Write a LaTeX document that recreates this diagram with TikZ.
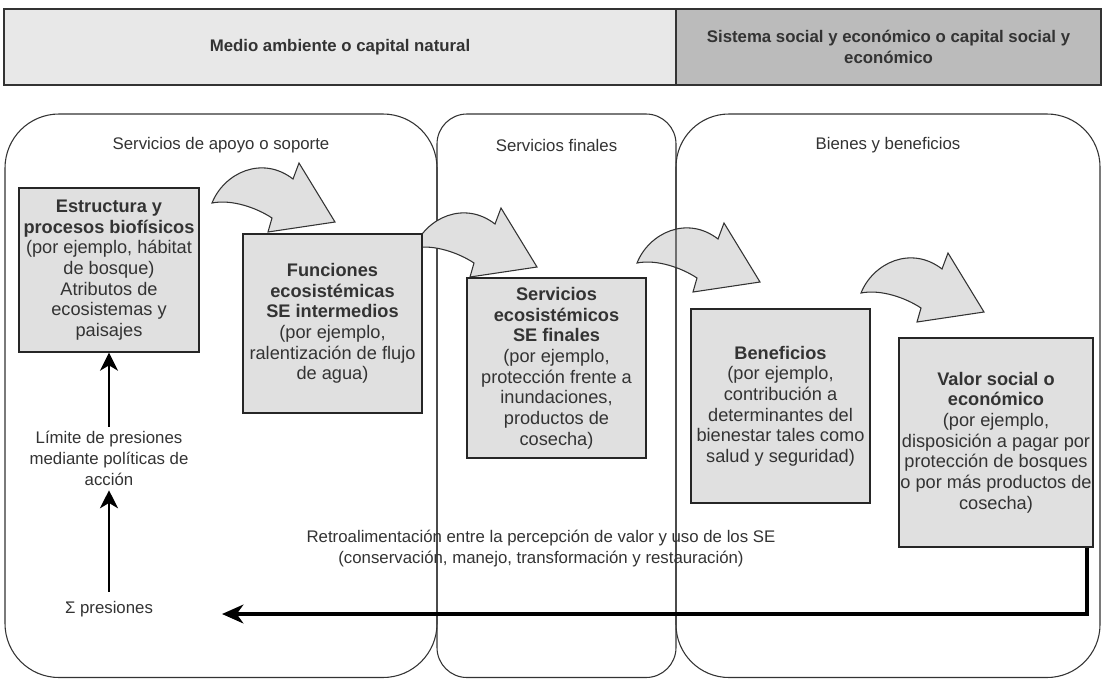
\documentclass[tikz,border=0pt]{standalone}
\usepackage{fontspec}
\setmainfont{Liberation Sans}
\usetikzlibrary{arrows.meta}
\definecolor{boxgray}{HTML}{E0E0E0}
\definecolor{barlight}{HTML}{E8E8E8}
\definecolor{bardark}{HTML}{BBBBBB}
\definecolor{txt}{HTML}{333333}
\definecolor{edge}{HTML}{333333}
\tikzset{
  panel/.style={draw=edge, line width=0.8pt},
  bar/.style={draw=edge, line width=0.9pt, text=txt, font=\fontsize{12.6}{15.75}\selectfont\bfseries, align=center, inner sep=0pt},
  box/.style={draw=black!85, line width=1pt, fill=boxgray, text=txt, align=center, font=\fontsize{13.65}{15.5}\selectfont, inner sep=0pt},
  lbl/.style={text=txt, align=center, font=\fontsize{12.6}{15.75}\selectfont, inner sep=0pt},
  barrow/.style={draw=edge, line width=0.8pt, fill=boxgray, line join=miter},
  varrow/.style={draw=black, line width=1.9pt, -{Stealth[length=13.5pt, width=13.5pt, inset=4pt]}},
  fbarrow/.style={draw=black, line width=3pt, -{Stealth[length=16pt, width=14pt, inset=5pt]}},
  bendarr/.pic={
    \draw[barrow] (0,0) .. controls (12,-30) and (50,-48) .. (81,-24)
      -- (87,-40) -- (123,19) -- (56,29) -- (60,15)
      .. controls (45,5) and (20,-4) .. (0,0) -- cycle;
  }
}
\begin{document}
\begin{tikzpicture}[x=0.75pt,y=-0.75pt]
\path[fill=white] (0,0) rectangle (1102,679);
\useasboundingbox (0,0) rectangle (1102,679);

% top bar
\node[bar, fill=barlight, minimum width=504pt, minimum height=57pt] (env) at (340,47) {Medio ambiente o capital natural};
\node[bar, fill=bardark, minimum width=318.75pt, minimum height=57pt] (soc) at (888.5,47) {Sistema social y económico o capital social y\\económico};

% panels and bent arrows
\draw[panel, rounded corners=40.5pt] (5,114) rectangle (437,677.5);
\draw[panel, rounded corners=22.5pt] (437,114) rectangle (676,677.5);
\pic at (212,203) {bendarr};
\pic at (414,248) {bendarr};
\pic at (637,263) {bendarr};
\draw[panel, rounded corners=39.75pt] (676,114) rectangle (1100,677.5);
\pic at (861,293) {bendarr};

% panel titles
\node[lbl] (t1) at (221,145) {Servicios de apoyo o soporte};
\node[lbl] (t2) at (556.5,145) {Servicios finales};
\node[lbl] (t3) at (888,145) {Bienes y beneficios};

% boxes
\node[box, minimum width=135pt, minimum height=123pt] (b1) at (109,270)
  {\textbf{Estructura y}\\\textbf{procesos biofísicos}\\(por ejemplo, hábitat\\de bosque)\\Atributos de\\ecosistemas y\\paisajes};
\node[box, minimum width=134.25pt, minimum height=134.25pt] (b2) at (332.5,323.5)
  {\textbf{Funciones}\\\textbf{ecosistémicas}\\\textbf{SE intermedios}\\(por ejemplo,\\ralentización de flujo\\de agua)};
\node[box, minimum width=134.25pt, minimum height=135pt] (b3) at (556.5,368)
  {\textbf{Servicios}\\\textbf{ecosistémicos}\\\textbf{SE finales}\\(por ejemplo,\\protección frente a\\inundaciones,\\productos de\\cosecha)};
\node[box, minimum width=134.25pt, minimum height=145.5pt] (b4) at (780.5,406)
  {\textbf{Beneficios}\\(por ejemplo,\\contribución a\\determinantes del\\bienestar tales como\\salud y seguridad)};
\node[box, minimum width=145.5pt, minimum height=156.75pt] (b5) at (996,442.5)
  {\textbf{Valor social o}\\\textbf{económico}\\(por ejemplo,\\disposición a pagar por\\protección de bosques\\o por más productos de\\cosecha)};

% pressures
\node[lbl, minimum height=47.25pt] (lim) at (109,458.5) {Límite de presiones\\mediante políticas de\\acción};
\node[lbl, minimum height=25.5pt] (sigma) at (109,609) {Σ presiones};
\draw[varrow] (sigma.north) -- (lim.south);
\draw[varrow] (lim.north) -- (b1.south);

% feedback
\node[lbl] (retro) at (541,548.5) {Retroalimentación entre la percepción de valor y uso de los SE\\(conservación, manejo, transformación y restauración)};
\coordinate (fbend) at (222,614);
\draw[fbarrow] ([xshift=-5.25pt]b5.south east) |- (fbend);
\end{tikzpicture}
\end{document}
